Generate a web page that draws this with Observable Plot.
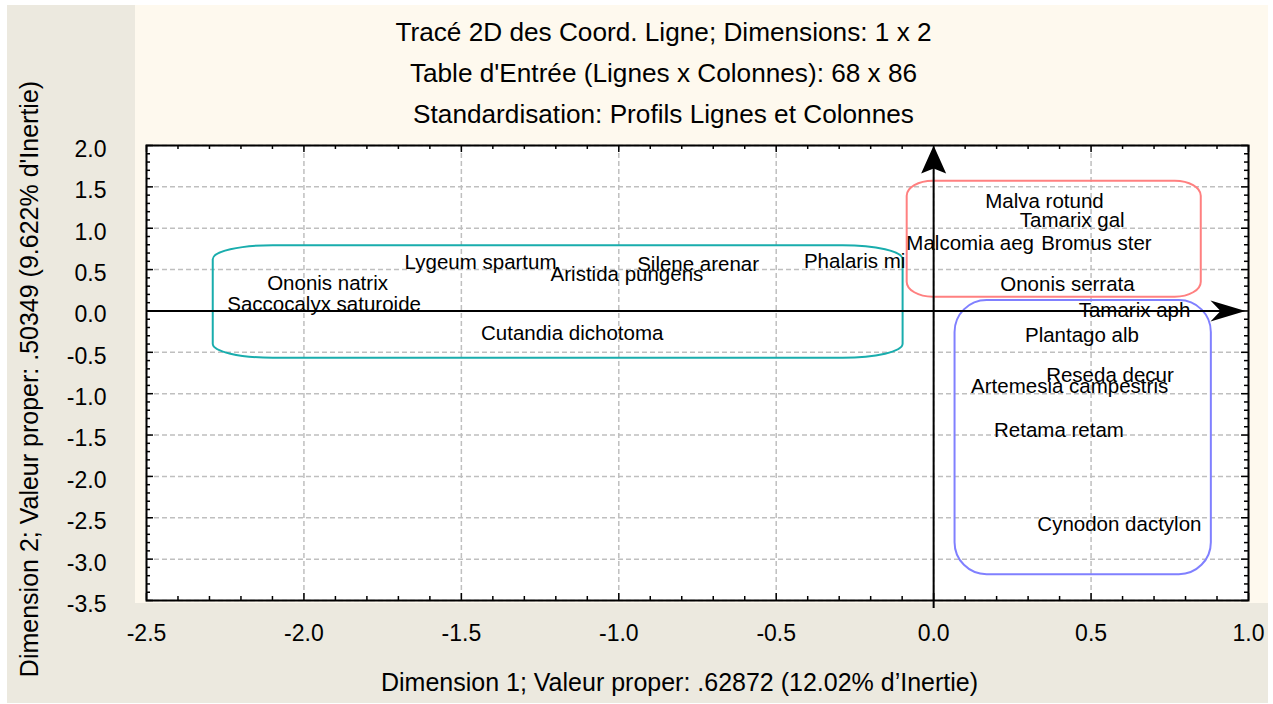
<!DOCTYPE html>
<html>
<head>
<meta charset="utf-8">
<script src="https://cdn.jsdelivr.net/npm/d3@7"></script>
<script src="https://cdn.jsdelivr.net/npm/@observablehq/plot@0.6"></script>
<style>
  html, body { margin: 0; padding: 0; background: #ffffff; overflow: hidden; }
  #wrap { position: relative; width: 1273px; height: 704px; }
  #bgGray { position: absolute; left: 7px; top: 5px; width: 1261px; height: 698px; background: #ECE9DF; }
  #bgCream { position: absolute; left: 135px; top: 5px; width: 1133px; height: 598px; background: #FEF9EE; }
  #chart { position: absolute; left: 0; top: 0; }
</style>
</head>
<body>
<div id="wrap">
  <div id="bgGray"></div>
  <div id="bgCream"></div>
  <div id="chart"></div>
</div>
<script>
// ---- Data ----
const titleLines = [
  "Tracé 2D des Coord. Ligne; Dimensions: 1 x 2",
  "Table d'Entrée (Lignes x Colonnes): 68 x 86",
  "Standardisation: Profils Lignes et Colonnes"
];
const xLabel = "Dimension 1; Valeur proper: .62872 (12.02% d’Inertie)";
const yLabel = "Dimension 2; Valeur proper: .50349 (9.622% d'Inertie)";

const labels = [
  "Ononis natrix", "Saccocalyx saturoide", "Lygeum spartum", "Aristida pungens",
  "Silene arenar", "Phalaris mi", "Cutandia dichotoma",
  "Malva rotund", "Tamarix gal", "Malcomia aeg", "Bromus ster", "Ononis serrata",
  "Tamarix aph", "Plantago alb", "Reseda decur", "Artemesia campestris",
  "Retama retam", "Cynodon dactylon"
];
const dim1 = [
  -1.925, -1.936, -1.439, -0.974,
  -0.748, -0.251, -1.148,
  0.352, 0.440, 0.116, 0.517, 0.425,
  0.638, 0.471, 0.560, 0.432,
  0.398, 0.590
];
const dim2 = [
  0.328, 0.074, 0.589, 0.437,
  0.558, 0.598, -0.271,
  1.328, 1.095, 0.821, 0.821, 0.322,
  0.010, -0.290, -0.780, -0.913,
  -1.440, -2.585
];

// group envelopes (data units)
const boxX1 = [-2.288, -0.084, 0.068];
const boxX2 = [-0.097, 0.850, 0.882];
const boxY1 = [-0.572, 0.167, -3.188];
const boxY2 = [0.789, 1.568, 0.126];

const xTicks = [-2.5, -2.0, -1.5, -1.0, -0.5, 0.0, 0.5, 1.0];
const yTicks = [-3.5, -3.0, -2.5, -2.0, -1.5, -1.0, -0.5, 0.0, 0.5, 1.0, 1.5, 2.0];

// ---- Build tables ----
const points = labels.map((name, i) => ({name, x: dim1[i], y: dim2[i]}));
const boxes = boxX1.map((x1, i) => ({x1, x2: boxX2[i], y1: boxY1[i], y2: boxY2[i]}));
const xDomain = [xTicks[0], xTicks[xTicks.length - 1]];
const yDomain = [yTicks[0], yTicks[yTicks.length - 1]];
const minorX = d3.ticks(xDomain[0], xDomain[1], 35);
const minorY = d3.ticks(yDomain[0], yDomain[1], 55);

const W = 1273, H = 704;
const mL = 146, mR = 25, mT = 145, mB = 104;
const fw = W - mL - mR, fh = H - mT - mB;
const fmt = d => d.toFixed(1);
const FONT = "'Liberation Sans', Arial, Helvetica, sans-serif";

const arrowRight = {draw(c) { c.moveTo(0, 0); c.lineTo(-35, -10.5); c.lineTo(-25, 0); c.lineTo(-35, 10.5); c.closePath(); }};
const arrowUp = {draw(c) { c.moveTo(0, 0); c.lineTo(-12.5, 28); c.lineTo(0, 23); c.lineTo(12.5, 28); c.closePath(); }};

const tickMarks = [];
const minorLen = 4, majorLen = 7;
const isMajor = v => Math.abs(v * 2 - Math.round(v * 2)) < 1e-6;
for (const [vals, len] of [[minorX.filter(v => !isMajor(v)), minorLen], [minorX.filter(isMajor), majorLen]]) {
  tickMarks.push(Plot.tickX(vals, {x: d => d, insetBottom: fh - len, stroke: "black", strokeWidth: 1.5}));
  tickMarks.push(Plot.tickX(vals, {x: d => d, insetTop: fh - len, stroke: "black", strokeWidth: 1.5}));
}
for (const [vals, len] of [[minorY.filter(v => !isMajor(v)), minorLen], [minorY.filter(isMajor), majorLen]]) {
  tickMarks.push(Plot.tickY(vals, {y: d => d, insetRight: fw - len, stroke: "black", strokeWidth: 1.5}));
  tickMarks.push(Plot.tickY(vals, {y: d => d, insetLeft: fw - len, stroke: "black", strokeWidth: 1.5}));
}

const chart = Plot.plot({
  width: W, height: H,
  marginLeft: mL, marginRight: mR, marginTop: mT, marginBottom: mB,
  style: {background: "transparent", fontFamily: FONT, color: "black", overflow: "visible"},
  x: {domain: xDomain},
  y: {domain: yDomain},
  marks: [
    Plot.frame({fill: "white", stroke: "none"}),
    Plot.gridX(xTicks, {stroke: "#bfbfbf", strokeOpacity: 1, strokeWidth: 1.5, strokeDasharray: "5,3"}),
    Plot.gridY(yTicks, {stroke: "#bfbfbf", strokeOpacity: 1, strokeWidth: 1.5, strokeDasharray: "5,3"}),
    Plot.rect([boxes[0]], {x1: "x1", x2: "x2", y1: "y1", y2: "y2", fill: "none", stroke: "#19adad", strokeWidth: 2, rx: 60, ry: 14}),
    Plot.rect([boxes[1]], {x1: "x1", x2: "x2", y1: "y1", y2: "y2", fill: "none", stroke: "#ff8080", strokeWidth: 2, rx: 26, ry: 15}),
    Plot.rect([boxes[2]], {x1: "x1", x2: "x2", y1: "y1", y2: "y2", fill: "none", stroke: "#8080ff", strokeWidth: 2, rx: 32, ry: 32}),
    ...tickMarks,
    Plot.ruleY([0], {x1: xDomain[0], x2: xDomain[1], insetRight: 10, stroke: "black", strokeWidth: 2}),
    Plot.ruleX([0], {y1: yDomain[0], y2: yDomain[1], insetBottom: -4, insetTop: 8, stroke: "black", strokeWidth: 2}),
    Plot.dot([0], {x: () => xDomain[1], y: () => 0, symbol: arrowRight, fill: "black", stroke: "none", dx: -3}),
    Plot.dot([0], {x: () => 0, y: () => yDomain[1], symbol: arrowUp, fill: "black", stroke: "none"}),
    Plot.text(points, {x: "x", y: "y", text: "name", fontSize: 20.5, fill: "black", textAnchor: "middle"}),
    Plot.frame({stroke: "black", strokeWidth: 2}),
    Plot.axisX(xTicks, {anchor: "bottom", tickSize: 0, tickPadding: 24, tickFormat: fmt, fontSize: 23, label: null}),
    Plot.axisY(yTicks, {anchor: "left", tickSize: 0, tickPadding: 40, dy: 4, tickFormat: fmt, fontSize: 23, label: null}),
    Plot.text([xLabel], {frameAnchor: "bottom", textAnchor: "middle", dx: -18, dy: 90, fontSize: 25, fill: "black"}),
    Plot.text([yLabel], {frameAnchor: "left", textAnchor: "middle", dx: -117, dy: 6, rotate: -90, fontSize: 25, fill: "black"}),
    Plot.text([titleLines[0]], {frameAnchor: "top", textAnchor: "middle", dx: -34, dy: 22 - mT, fontSize: 26.2, fill: "black"}),
    Plot.text([titleLines[1]], {frameAnchor: "top", textAnchor: "middle", dx: -34, dy: 63 - mT, fontSize: 26.2, fill: "black"}),
    Plot.text([titleLines[2]], {frameAnchor: "top", textAnchor: "middle", dx: -34, dy: 104 - mT, fontSize: 26.2, fill: "black"})
  ]
});
document.getElementById("chart").appendChild(chart);
</script>
</body>
</html>
